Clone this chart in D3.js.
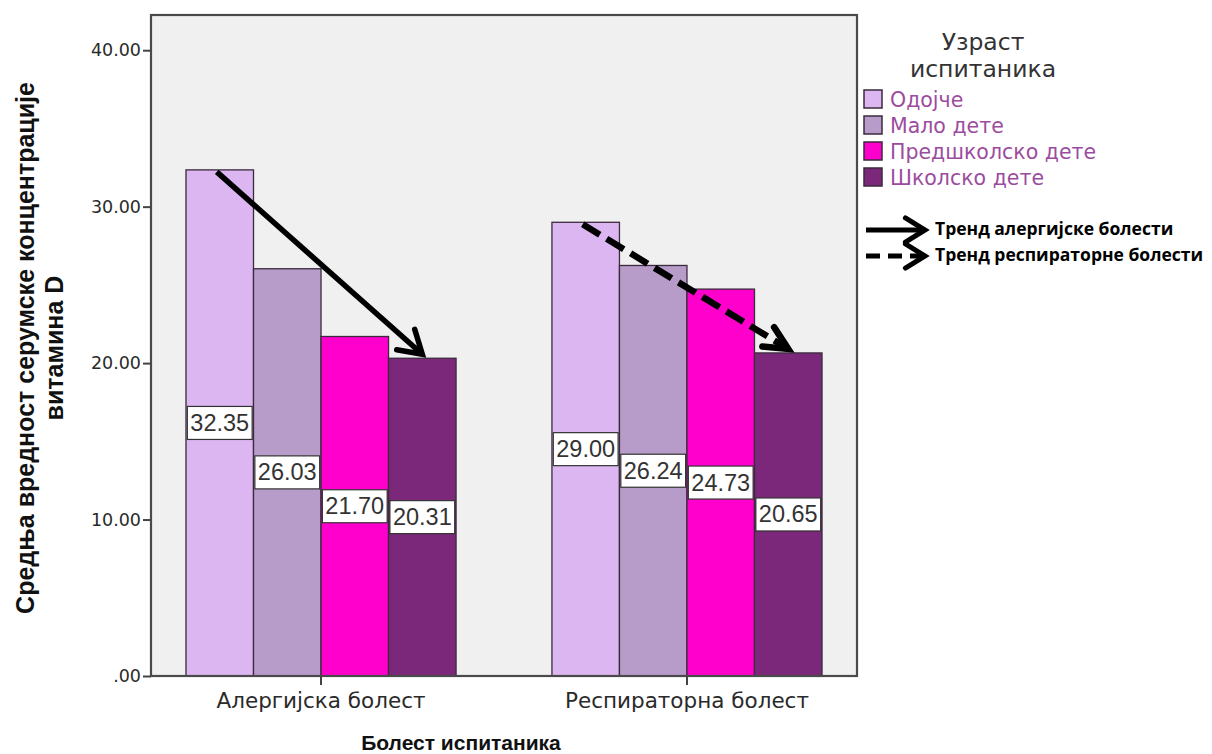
<!DOCTYPE html>
<html>
<head>
<meta charset="utf-8">
<script src="https://cdn.jsdelivr.net/npm/d3@7"></script>
<style>
  html, body { margin: 0; padding: 0; background: #ffffff; }
  svg { display: block; }
</style>
</head>
<body>
<svg id="chart" width="1212" height="754"></svg>
<script>
// ---------------- DATA ----------------
const categories = ["Алергијска болест", "Респираторна болест"];
const series = ["Одојче", "Мало дете", "Предшколско дете", "Школско дете"];
const allergicValues = [32.35, 26.03, 21.70, 20.31];
const respiratoryValues = [29.00, 26.24, 24.73, 20.65];
const yTicks = [0, 10, 20, 30, 40];
const yTickLabels = [".00", "10.00", "20.00", "30.00", "40.00"];
const seriesColors = ["#dcb6f0", "#b79bc9", "#ff00cc", "#7c287a"];
const trendLabels = ["Тренд алергијске болести", "Тренд респираторне болести"];
const legendTitle = ["Узраст", "испитаника"];
const yTitle = ["Средња вредност серумске концентрације", "витамина D"];
const xTitle = "Болест испитаника";

const valuesByCategory = [allergicValues, respiratoryValues];

// ---------------- LAYOUT ----------------
const svg = d3.select("#chart");
const plot = { left: 151, right: 857, top: 15, bottom: 676 };

const y = d3.scaleLinear().domain([0, 42.25]).range([plot.bottom, plot.top]);
const x0 = d3.scaleBand().domain(categories).range([plot.left, plot.right])
  .paddingInner(0.262).paddingOuter(0.0956);
const x1 = d3.scaleBand().domain(series).range([0, x0.bandwidth()]);
const color = d3.scaleOrdinal().domain(series).range(seriesColors);

// plot background
svg.append("rect")
  .attr("x", plot.left).attr("y", plot.top)
  .attr("width", plot.right - plot.left).attr("height", plot.bottom - plot.top)
  .attr("fill", "#f0f0f0");

// bars
const groups = svg.append("g").selectAll("g")
  .data(categories.map((c, i) => ({ cat: c, vals: valuesByCategory[i] })))
  .join("g")
  .attr("transform", d => `translate(${x0(d.cat)},0)`);

groups.selectAll("rect")
  .data(d => d.vals.map((v, j) => ({ s: series[j], v })))
  .join("rect")
  .attr("x", d => x1(d.s))
  .attr("y", d => y(d.v))
  .attr("width", x1.bandwidth())
  .attr("height", d => y(0) - y(d.v))
  .attr("fill", d => color(d.s))
  .attr("stroke", "#3b2a3d")
  .attr("stroke-width", 1.3);

// value labels (at half height)
groups.each(function(d) {
  const g = d3.select(this);
  d.vals.forEach((v, j) => {
    const cx = x1(series[j]) + x1.bandwidth() / 2;
    const cy = y(v / 2);
    const lab = g.append("g");
    const box = lab.append("rect").attr("fill", "#ffffff").attr("stroke", "#333").attr("stroke-width", 1.2);
    const t = lab.append("text")
      .attr("x", cx).attr("y", cy)
      .attr("text-anchor", "middle").attr("dominant-baseline", "central")
      .attr("font-family", "'Liberation Sans', Arial, sans-serif")
      .attr("font-size", 23.5).attr("fill", "#333")
      .text(v.toFixed(2));
    const w = Math.min(t.node().getComputedTextLength() + 6, x1.bandwidth());
    box.attr("x", cx - w / 2).attr("y", cy - 16.5).attr("width", w).attr("height", 33);
  });
});

// frame
svg.append("rect")
  .attr("x", plot.left).attr("y", plot.top)
  .attr("width", plot.right - plot.left).attr("height", plot.bottom - plot.top)
  .attr("fill", "none").attr("stroke", "#4a4a4a").attr("stroke-width", 2.2);

// y axis
const yAxis = d3.axisLeft(y).tickValues(yTicks).tickSize(8).tickPadding(2)
  .tickFormat((d, i) => yTickLabels[i]);
const gy = svg.append("g").attr("transform", `translate(${plot.left},0)`).call(yAxis);
gy.select(".domain").remove();
gy.selectAll("line").attr("stroke", "#444").attr("stroke-width", 2);
gy.selectAll("text").attr("font-family", "'DejaVu Sans', Verdana, sans-serif")
  .attr("font-size", 17.5).attr("fill", "#2a2a2a");

// x axis
const xAxis = d3.axisBottom(x0).tickSize(9).tickPadding(8);
const gx = svg.append("g").attr("transform", `translate(0,${plot.bottom})`).call(xAxis);
gx.select(".domain").remove();
gx.selectAll("line").attr("stroke", "#444").attr("stroke-width", 2);
gx.selectAll("text").attr("font-family", "'DejaVu Sans', Verdana, sans-serif")
  .attr("font-size", 21.5).attr("fill", "#2a2a2a");

// axis titles
svg.append("text")
  .attr("x", 461).attr("y", 750)
  .attr("text-anchor", "middle")
  .attr("font-family", "'Liberation Sans', Arial, sans-serif")
  .attr("font-weight", "bold").attr("font-size", 21).attr("fill", "#111")
  .text(xTitle);

const yt = svg.append("text")
  .attr("transform", "translate(0,348) rotate(-90)")
  .attr("text-anchor", "middle")
  .attr("font-family", "'Liberation Sans', Arial, sans-serif")
  .attr("font-weight", "bold").attr("font-size", 25).attr("fill", "#111");
yt.append("tspan").attr("x", 0).attr("y", 34).text(yTitle[0]);
yt.append("tspan").attr("x", 0).attr("y", 63).text(yTitle[1]);

// trend arrows
function arrow(x1p, y1p, x2p, y2p, dashed, sw, wing, spread) {
  const g = svg.append("g");
  const ang = Math.atan2(y2p - y1p, x2p - x1p);
  g.append("line")
    .attr("x1", x1p).attr("y1", y1p).attr("x2", x2p).attr("y2", y2p)
    .attr("stroke", "#000").attr("stroke-width", sw)
    .attr("stroke-dasharray", dashed ? dashed : null);
  const a1 = ang + Math.PI - spread, a2 = ang + Math.PI + spread;
  g.append("path")
    .attr("d", `M${x2p + wing * Math.cos(a1)},${y2p + wing * Math.sin(a1)} L${x2p},${y2p} L${x2p + wing * Math.cos(a2)},${y2p + wing * Math.sin(a2)}`)
    .attr("fill", "none").attr("stroke", "#000").attr("stroke-width", sw)
    .attr("stroke-linejoin", "miter").attr("stroke-linecap", "round");
}
valuesByCategory.forEach((vals, i) => {
  const cat = categories[i];
  const xs = x0(cat) + x1(series[0]) + x1.bandwidth() / 2 - 3;
  const xe = x0(cat) + x1(series[3]) + x1.bandwidth() / 2;
  arrow(xs, y(vals[0]) + 2, xe, y(vals[3]) - 4, i === 0 ? null : "20,8", i === 0 ? 5.5 : 6.5, 26, i === 0 ? 0.55 : 0.45);
});

// legend
const lt = svg.append("text")
  .attr("text-anchor", "middle")
  .attr("font-family", "'DejaVu Sans', Verdana, sans-serif")
  .attr("font-size", 23.5).attr("fill", "#333");
legendTitle.forEach((t, i) => {
  lt.append("tspan").attr("x", 983).attr("y", 50 + i * 27).text(t);
});

const items = svg.append("g").selectAll("g.item").data(series).join("g")
  .attr("class", "item")
  .attr("transform", (d, i) => `translate(864,${90 + i * 26})`);
items.append("rect").attr("width", 18).attr("height", 18)
  .attr("fill", d => color(d)).attr("stroke", "#3b2a3d").attr("stroke-width", 1.5);
items.append("text").attr("x", 26).attr("y", 10)
  .attr("dominant-baseline", "central")
  .attr("font-family", "'DejaVu Sans', Verdana, sans-serif")
  .attr("font-size", 20.5).attr("fill", "#9b4c9e")
  .text(d => d);

// trend legend
trendLabels.forEach((lbl, i) => {
  const yy = 230 + i * 26;
  arrow(866, yy, 925, yy, i === 0 ? null : "14,8", 5, 23, 0.55);
  svg.append("text")
    .attr("x", 935).attr("y", yy - 2)
    .attr("dominant-baseline", "central")
    .attr("font-family", "'Open Sans', 'Noto Sans', sans-serif")
    .attr("font-weight", "bold").attr("font-size", 17.5).attr("fill", "#000")
    .text(lbl);
});
</script>
</body>
</html>
